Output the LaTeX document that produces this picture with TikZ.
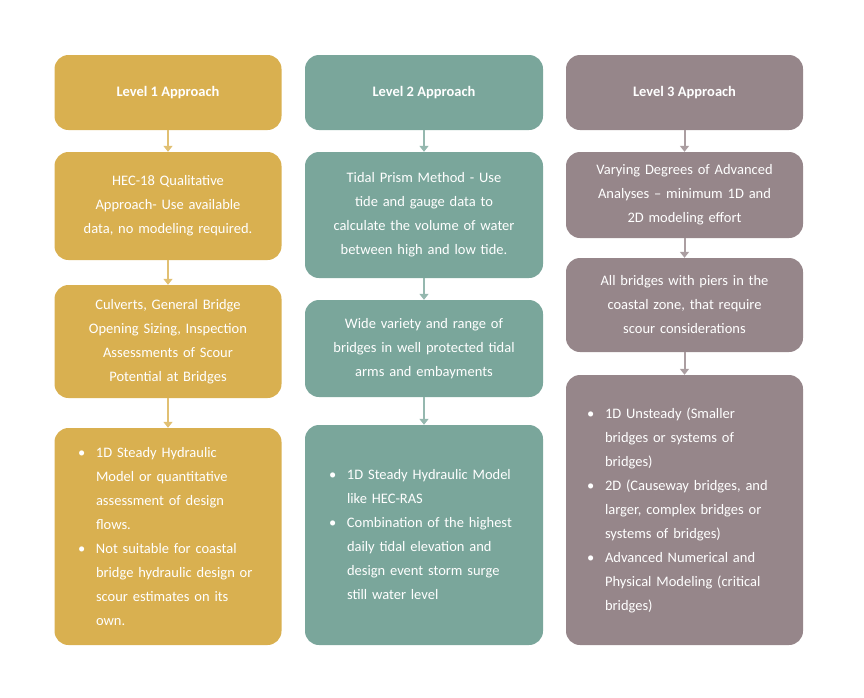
\documentclass[tikz,border=0pt]{standalone}
\usepackage{fontspec}
\setmainfont{Carlito}
\usetikzlibrary{arrows.meta,positioning}
\definecolor{goldbox}{RGB}{217,176,80}
\definecolor{tealbox}{RGB}{122,166,155}
\definecolor{mauvebox}{RGB}{150,134,138}
\newcommand{\bitem}[1]{\hangindent=18pt\hangafter=1\makebox[18pt][l]{\textbullet}#1\par}
\tikzset{
  stagebox/.style={rectangle, rounded corners=14pt, fill=#1, text=white, align=center,
    font=\fontsize{14.5}{24}\selectfont, inner sep=0pt},
  headbox/.style={font=\fontsize{14.5}{24}\selectfont\bfseries},
  flow/.style={draw=#1, line width=2pt, -{Triangle[length=6pt,width=9pt]}}
}
\begin{document}
\begin{tikzpicture}[x=1pt,y=-1pt]
  \useasboundingbox (0,0) rectangle (864,697);
  % level 1
  \node[stagebox=goldbox, headbox, minimum width=227pt, minimum height=75pt] (h1) at (168,92.5) {Level 1 Approach};
  \node[stagebox=goldbox, minimum width=227pt, minimum height=108pt, text width=200pt] (a1) at (168,206) {HEC-18 Qualitative\\Approach- Use available\\data, no modeling required.};
  \node[stagebox=goldbox, minimum width=227pt, minimum height=113pt, text width=200pt] (b1) at (168,341.5) {Culverts, General Bridge\\Opening Sizing, Inspection\\Assessments of Scour\\Potential at Bridges};
  \node[stagebox=goldbox, minimum width=227pt, minimum height=217pt, text width=180pt, align=left] (c1) at (168,536.5) {\parbox{180pt}{\raggedright
    \bitem{1D Steady Hydraulic Model or quantitative assessment of design flows.}
    \bitem{Not suitable for coastal bridge hydraulic design or scour estimates on its own.}}};
  % level 2
  \node[stagebox=tealbox, headbox, minimum width=238pt, minimum height=75pt] (h2) at (424,92.5) {Level 2 Approach};
  \node[stagebox=tealbox, minimum width=238pt, minimum height=126pt, text width=210pt] (a2) at (424,215) {Tidal Prism Method - Use\\tide and gauge data to\\calculate the volume of water\\between high and low tide.};
  \node[stagebox=tealbox, minimum width=238pt, minimum height=97pt, text width=210pt] (b2) at (424,348.5) {Wide variety and range of\\bridges in well protected tidal\\arms and embayments};
  \node[stagebox=tealbox, minimum width=238pt, minimum height=220pt, text width=190pt, align=left] (c2) at (424,535) {\parbox{190pt}{\raggedright
    \bitem{1D Steady Hydraulic Model like HEC-RAS}
    \bitem{Combination of the highest daily tidal elevation and design event storm surge still water level}}};
  % level 3
  \node[stagebox=mauvebox, headbox, minimum width=237pt, minimum height=75pt] (h3) at (684.5,92.5) {Level 3 Approach};
  \node[stagebox=mauvebox, minimum width=237pt, minimum height=86pt, text width=215pt] (a3) at (684.5,195) {Varying Degrees of Advanced\\Analyses -- minimum 1D and\\2D modeling effort};
  \node[stagebox=mauvebox, minimum width=237pt, minimum height=94pt, text width=215pt] (b3) at (684.5,305) {All bridges with piers in the\\coastal zone, that require\\scour considerations};
  \node[stagebox=mauvebox, minimum width=237pt, minimum height=270pt, text width=195pt, align=left] (c3) at (684.5,510) {\parbox{195pt}{\raggedright
    \bitem{1D Unsteady (Smaller bridges or systems of bridges)}
    \bitem{2D (Causeway bridges, and larger, complex bridges or systems of bridges)}
    \bitem{Advanced Numerical and Physical Modeling (critical bridges)}}};
  % connectors
  \foreach \u/\v in {h1/a1,a1/b1,b1/c1}
    \draw[flow=goldbox!80] (\u.south) -- (\v.north);
  \foreach \u/\v in {h2/a2,a2/b2,b2/c2}
    \draw[flow=tealbox!80] (\u.south) -- (\v.north);
  \foreach \u/\v in {h3/a3,a3/b3,b3/c3}
    \draw[flow=mauvebox!80] (\u.south) -- (\v.north);
\end{tikzpicture}
\end{document}
